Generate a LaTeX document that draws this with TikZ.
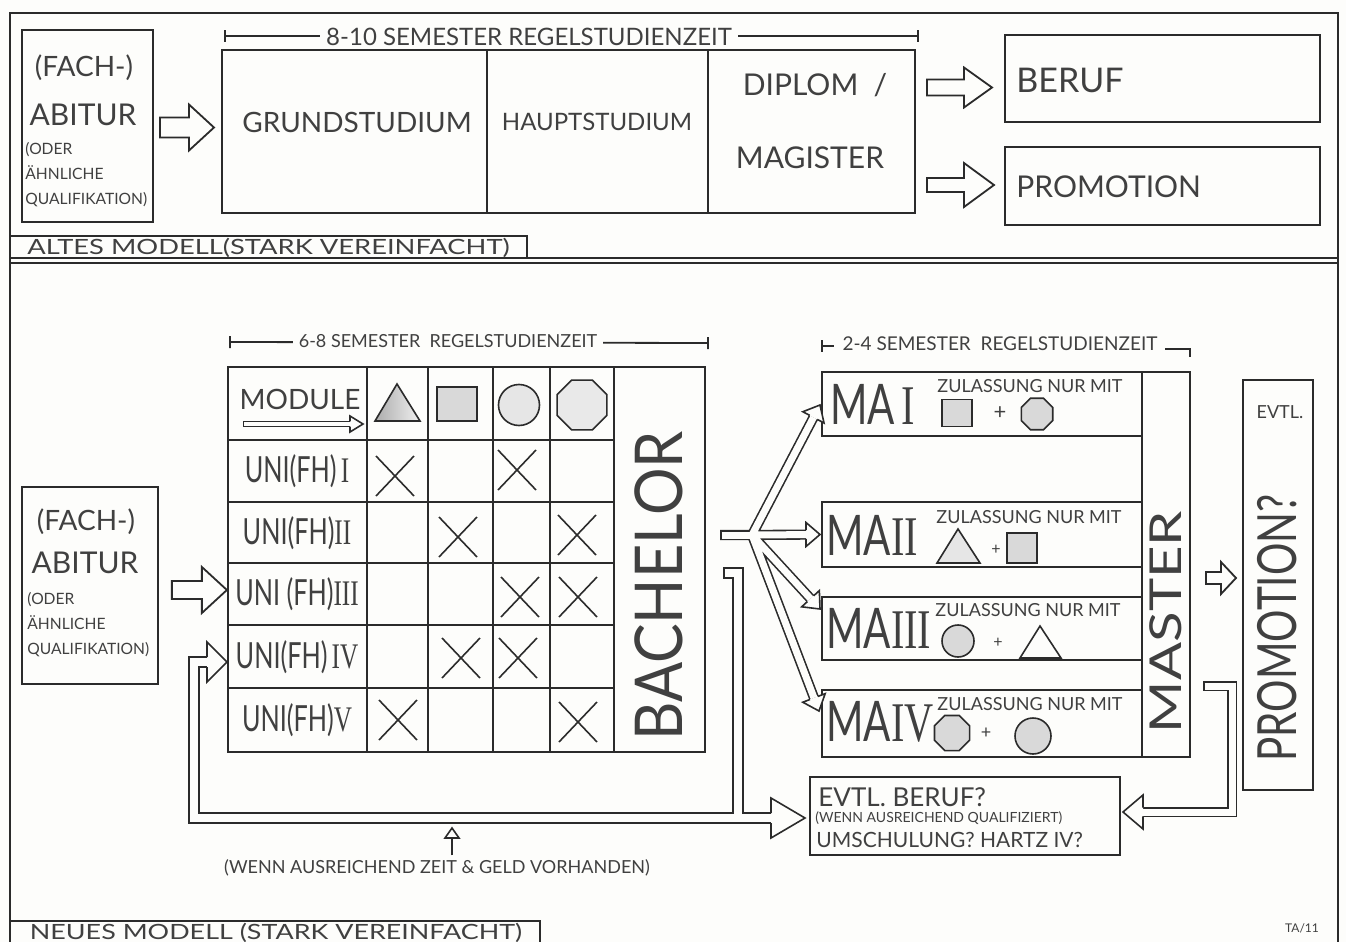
\documentclass[tikz,border=0pt]{standalone}
\usepackage{fontspec}
\setmainfont{Lato}
\newfontfamily\numfont{Liberation Serif}
\usetikzlibrary{shapes.geometric,fit,calc}
\definecolor{ink}{HTML}{2B2B2B}
\definecolor{pencil}{HTML}{404040}
\definecolor{paper}{HTML}{FDFDFB}
\definecolor{shade}{HTML}{C8C8C8}
\newcommand\fsz[1]{\fontsize{#1}{#1}\selectfont}
\newcommand\rn[1]{{\numfont #1}}
\tikzset{
  ln/.style={draw=ink, line width=0.9pt},
  fitbox/.style={draw=ink, line width=1pt, inner sep=0pt},
  txt/.style={text=pencil, inner sep=0pt},
  sO/.style={draw=ink, line width=#1+1.6pt, line join=miter, line cap=butt},
  sI/.style={draw=paper, line width=#1, line join=miter, line cap=butt},
  ahL/.store in=\ahL, ahW/.store in=\ahW, ahG/.store in=\ahG,
  ahL=7pt, ahW=6pt, ahG=2.15pt,
  hhead/.pic={\draw[draw=ink, line width=0.8pt, fill=paper, line join=miter] (-\ahL,\ahG) -- (-\ahL,\ahW) -- (0,0) -- (-\ahL,-\ahW) -- (-\ahL,-\ahG);},
  baT/.store in=\baT, baL/.store in=\baL, baS/.store in=\baS, baH/.store in=\baH,
  baT=26pt, baL=12pt, baS=5pt, baH=11pt,
  blk/.pic={\draw[draw=ink, line width=0.9pt, fill=paper, line join=miter] (-\baT,\baS) -- (-\baL,\baS) -- (-\baL,\baH) -- (0,0) -- (-\baL,-\baH) -- (-\baL,-\baS) -- (-\baT,-\baS) -- cycle;},
  shp/.style={draw=ink, line width=0.8pt, inner sep=0pt},
  oct/.style={shp, regular polygon, regular polygon sides=8},
  xm/.style={draw=ink, line width=0.8pt},
}
\begin{document}
\begin{tikzpicture}[x=0.5pt,y=-0.5pt]
\useasboundingbox (0,0) rectangle (1346,942);
\fill[paper] (0,0) rectangle (1346,942);
% outer frame
\draw[ink, line width=1.3pt] (10,960) -- (10,13) -- (1338,13) -- (1338,960);
% ================= OLD MODEL =================
\node[fitbox, fit={(22,30) (153,222)}] (abiA) {};
\node[txt, font=\fsz{14}] (abiA1) at (84,68) {(FACH-)};
\node[txt, font=\fsz{15}] (abiA2) at (83,115) {ABITUR};
\node[txt, font=\fontsize{7.8}{12.5}\selectfont, anchor=west, align=left] (abiA3) at (25,175) {(ODER\\ÄHNLICHE\\QUALIFIKATION)};

\node[fitbox, fit={(222,50) (487,213)}] (grund) {};
\node[fitbox, fit={(487,50) (708,213)}] (haupt) {};
\node[fitbox, fit={(708,50) (915,213)}] (dipl) {};
\node[txt, font=\fsz{14}] (grundT) at (357,122) {GRUNDSTUDIUM};
\node[txt, font=\fsz{12}] (hauptT) at (597,122) {HAUPTSTUDIUM};
\node[txt, font=\fsz{15}] (diplT) at (815,85) {DIPLOM\ \ /};
\node[txt, font=\fsz{15}] (magT) at (810,158) {MAGISTER};

\coordinate (dA1) at (225,36);
\coordinate (dA2) at (918,36);
\draw[ln] (dA1) -- (dA2) ($(dA1)+(0,-6)$) -- ($(dA1)+(0,6)$) ($(dA2)+(0,-6)$) -- ($(dA2)+(0,6)$);
\node[txt, fill=paper, inner xsep=3pt, font=\fsz{12}] (durA) at (529,37) {8-10 SEMESTER REGELSTUDIENZEIT};

\node[fitbox, fit={(1005,35) (1320,122)}] (beruf) {};
\node[fitbox, fit={(1005,147) (1320,225)}] (promA) {};
\node[txt, font=\fsz{17}, anchor=west] (berufT) at (1016,80) {BERUF};
\node[txt, font=\fsz{15}, anchor=west] (promAT) at (1016,187) {PROMOTION};

\pic[baT=27pt, baL=12.5pt, baS=5pt, baH=11.5pt] at ($(grund.west)+(-7,-4)$) {blk};
\pic[baT=32.5pt, baL=14pt, baS=4pt, baH=10pt] at ($(beruf.west)+(-12,9)$) {blk};
\pic[baT=33.5pt, baL=15pt, baS=3.5pt, baH=11pt] at ($(promA.west)+(-10,-1)$) {blk};

\node[fitbox, fit={(10,236) (527,258)}] (oldLab) {};
\node[txt, font=\fsz{10.5}] (oldLabT) at ($(oldLab.center)+(0,1)$) {\scalebox{1.3}[1]{ALTES MODELL(STARK VEREINFACHT)}};
\draw[ink, line width=1.3pt] (10,258) -- (1338,258);
\draw[ink, line width=1pt] (10,263) -- (1338,263);

% ================= NEW MODEL =================
\node[fitbox, fit={(22,487) (158,684)}] (abiB) {};
\node[txt, font=\fsz{14}] (abiB1) at (86,522) {(FACH-)};
\node[txt, font=\fsz{15}] (abiB2) at (85,563) {ABITUR};
\node[txt, font=\fontsize{7.8}{12.5}\selectfont, anchor=west, align=left] (abiB3) at (27,625) {(ODER\\ÄHNLICHE\\QUALIFIKATION)};

% table
\coordinate (tNW) at (228,367);
\coordinate (tSE) at (705,752);
\draw[ink, line width=1.3pt] (tNW) rectangle (tSE);
\draw[ink, line width=1.3pt] (228,440) -- (614,440);
\draw[ln] (614,367) -- (614,752);
\foreach \xx in {367,428,493,550} \draw[ln] (\xx,367) -- (\xx,752);
\foreach \yy in {502,563,625,688} \draw[ln] (228,\yy) -- (614,\yy);

\coordinate (dB1) at (230,342);
\coordinate (dB2) at (708,343);
\draw[ln] (dB1) -- (dB2) ($(dB1)+(0,-6)$) -- ($(dB1)+(0,6)$) ($(dB2)+(0,-6)$) -- ($(dB2)+(0,6)$);
\node[txt, fill=paper, inner xsep=3pt, font=\fsz{9}] (durB) at (448,341) {6-8 SEMESTER \ REGELSTUDIENZEIT};

\node[txt, font=\fsz{14}] (modT) at (300,399) {MODULE};
\draw[sO=1.8pt] (243,424) -- (350,424);
\draw[sI=1.8pt, shorten <=0.6pt] (243,424) -- (350,424);
\pic[ahL=6.5pt, ahW=4pt, ahG=1.3pt] at (363,424) {hhead};

% header shapes
\draw[ink, line width=0.8pt, left color=gray!65, right color=gray!12] (375,421) -- (397,384) -- (420,421) -- cycle;
\node[shp, fill=shade!70, minimum width=20pt, minimum height=17pt] (hSq) at (457,404) {};
\node[shp, circle, fill=shade!45, minimum size=20.5pt] (hCi) at (519,405) {};
\node[oct, fill=shade!40, minimum size=27pt] (hOc) at (582,405) {};

% row labels
\node[txt, font=\fsz{18}] (r1) at (297,471) {\scalebox{0.7}[1]{UNI(FH)\,\rn{I}}};
\node[txt, font=\fsz{18}] (r2) at (297,533) {\scalebox{0.7}[1]{UNI(FH)\rn{II}}};
\node[txt, font=\fsz{18}] (r3) at (297,594) {\scalebox{0.7}[1]{UNI (FH)\rn{III}}};
\node[txt, font=\fsz{18}] (r4) at (297,657) {\scalebox{0.7}[1]{UNI(FH)\,\rn{IV}}};
\node[txt, font=\fsz{18}] (r5) at (297,720) {\scalebox{0.7}[1]{UNI(FH)\rn{V}}};

% crosses
\foreach \cx/\cy in {395/476, 517/470, 458/537, 577/535, 520/597, 578/597, 461/658, 518/658, 398/720, 578/722}
  \draw[xm] (\cx-19,\cy-20) -- (\cx+19,\cy+20) (\cx-19,\cy+20) -- (\cx+19,\cy-20);

\node[txt, rotate=90, font=\fsz{33}] (bach) at (659,586) {\scalebox{0.9}[1]{BACHELOR}};

\pic[baT=27.5pt, baL=12.5pt, baS=4.5pt, baH=11.5pt] at ($(r3.west)+(-8,-4)$) {blk};

% master block
\node[fitbox, fit={(822,372) (1142,436)}] (ma1) {};
\node[fitbox, fit={(822,502) (1142,567)}] (ma2) {};
\node[fitbox, fit={(822,597) (1142,660)}] (ma3) {};
\node[fitbox, fit={(822,690) (1142,757)}] (ma4) {};
\node[fitbox, fit={(1142,372) (1190,757)}] (mast) {};
\node[txt, rotate=90, font=\fsz{22}] (mastT) at (1166,622) {\scalebox{1.28}[1]{MASTER}};

\coordinate (dC1) at (822,346);
\coordinate (dC2) at (1190,349);
\draw[ln] (dC1) -- ++(12,0) ($(dC1)+(0,-6)$) -- ($(dC1)+(0,6)$);
\draw[ln] ($(dC2)+(-25,0)$) -- (dC2) -- ++(0,8);
\node[txt, font=\fsz{9.5}] (durC) at (1000,344) {2-4 SEMESTER \ REGELSTUDIENZEIT};

\node[txt, font=\fsz{28}, anchor=west] (ma1T) at (830,404) {\scalebox{0.72}[1]{MA\,\rn{I}}};
\node[txt, font=\fsz{28}, anchor=west] (ma2T) at (826,535) {\scalebox{0.72}[1]{MA\rn{II}}};
\node[txt, font=\fsz{28}, anchor=west] (ma3T) at (826,628) {\scalebox{0.72}[1]{MA\rn{III}}};
\node[txt, font=\fsz{28}, anchor=west] (ma4T) at (826,722) {\scalebox{0.72}[1]{MA\rn{IV}}};
\node[txt, font=\fsz{9}] (z1) at (1030,386) {ZULASSUNG NUR MIT};
\node[txt, font=\fsz{9}] (z2) at (1029,517) {ZULASSUNG NUR MIT};
\node[txt, font=\fsz{9}] (z3) at (1028,610) {ZULASSUNG NUR MIT};
\node[txt, font=\fsz{9}] (z4) at (1030,704) {ZULASSUNG NUR MIT};

% MA I: square + octagon
\node[shp, fill=shade!70, minimum width=15pt, minimum height=13.5pt] (s1a) at (957,413) {};
\node[txt, font=\fsz{11}] (p1) at (1000,413) {+};
\node[oct, fill=shade!70, minimum size=17pt] (s1b) at (1037,414) {};
% MA II: triangle + square
\draw[ink, line width=0.8pt, fill=shade!45] (937,563) -- (958,529) -- (980,563) -- cycle;
\node[txt, font=\fsz{8}] (p2) at (996,550) {+};
\node[shp, fill=shade!70, minimum width=15pt, minimum height=15pt] (s2b) at (1022,548) {};
% MA III: circle + triangle
\node[shp, circle, fill=shade!70, minimum size=16pt] (s3a) at (958,641) {};
\node[txt, font=\fsz{8}] (p3) at (998,643) {+};
\draw[ink, line width=0.8pt] (1020,658) -- (1040,626) -- (1061,658) -- cycle;
% MA IV: octagon + circle
\node[oct, fill=shade!70, minimum size=19pt] (s4a) at (952,733) {};
\node[txt, font=\fsz{9}] (p4) at (986,733) {+};
\node[shp, circle, fill=shade!70, minimum size=18pt] (s4b) at (1033,736) {};

% promotion and evtl boxes
\node[fitbox, fit={(1243,380) (1313,790)}] (promB) {};
\node[txt, font=\fsz{9}] (evtlP) at (1280,412) {EVTL.};
\node[txt, rotate=90, font=\fsz{27}] (promBT) at (1277,628) {\scalebox{0.75}[1]{PROMOTION?}};

\node[fitbox, fit={(810,777) (1120,855)}] (evtl) {};
\node[txt, font=\fsz{13}, anchor=west] (ev1) at (818,797) {EVTL. BERUF?};
\node[txt, font=\fsz{7}, anchor=west] (ev2) at (815,818) {(WENN AUSREICHEND QUALIFIZIERT)};
\node[txt, font=\fsz{10.5}, anchor=west] (ev3) at (816,840) {UMSCHULUNG? HARTZ IV?};

% master -> promotion
\pic[baT=15pt, baL=7.5pt, baS=3pt, baH=8pt] at ($(promB.west)+(-6,-7)$) {blk};

% ---------- hollow connectors ----------
\coordinate (bs) at (720,535);
\coordinate (bj) at (752,535);
\coordinate (bjx) at (755,535);
\coordinate (t1) at ($(ma1.west)+(-1,1)$);
\coordinate (t2) at ($(ma2.west)+(-1,0)$);
\coordinate (t3) at ($(ma3.north west)+(-1,13)$);
\coordinate (t4) at ($(ma4.north west)+(-2,22)$);

\coordinate (fbS) at (723,573);
\coordinate (fbC) at (738,818);
\coordinate (uIV) at (227,662);
\coordinate (evL) at ($(evtl.west)+(-4,2)$);

\coordinate (pfS) at (1203,686);
\coordinate (evR) at ($(evtl.east)+(2,-4)$);

% outer pass
\draw[sO=3.5pt] (bs) -- (bjx)
  (bj) -- ($(t1)!7pt!(bj)$) (bj) -- ($(t2)!7pt!(bj)$)
  (bj) -- ($(t3)!7pt!(bj)$) (bj) -- ($(t4)!7pt!(bj)$);
\draw[sO=4.2pt] (fbS) -| (fbC) -- ($(evL)+(-34,0)$);
\draw[sO=4.2pt] (fbC) -| ($(uIV)+(-33,0)$) -- ($(uIV)+(-20,0)$);
\draw[sO=3.5pt] (pfS) -| ($(evR)+(109,0)$) -- ($(evR)+(20,0)$);
% inner pass
\draw[sI=3.5pt, shorten <=0.8pt] (bs) -- (bjx);
\draw[sI=3.5pt] (bj) -- ($(t1)!7pt!(bj)$) (bj) -- ($(t2)!7pt!(bj)$)
  (bj) -- ($(t3)!7pt!(bj)$) (bj) -- ($(t4)!7pt!(bj)$);
\draw[sI=4.2pt, shorten <=0.8pt] (fbS) -| (fbC);
\draw[sI=4.2pt] (fbC) -- ($(evL)+(-34,0)$);
\draw[sI=4.2pt] (fbC) -| ($(uIV)+(-33,0)$) -- ($(uIV)+(-20,0)$);
\draw[sI=3.5pt, shorten <=0.8pt] (pfS) -| ($(evR)+(109,0)$) -- ($(evR)+(20,0)$);
% heads
\pic[rotate=62.0, ahL=7pt, ahW=6pt, ahG=2.15pt] at (t1) {hhead};
\pic[rotate=0, ahL=7pt, ahW=6pt, ahG=2.15pt] at (t2) {hhead};
\pic[rotate=-47.4, ahL=7pt, ahW=6pt, ahG=2.15pt] at (t3) {hhead};
\pic[rotate=-69.0, ahL=7pt, ahW=6pt, ahG=2.15pt] at (t4) {hhead};
\pic[rotate=0, ahL=17pt, ahW=10pt, ahG=2.5pt] at (evL) {hhead};
\pic[rotate=0, ahL=10pt, ahW=10pt, ahG=2.5pt] at (uIV) {hhead};
\pic[rotate=180, ahL=10pt, ahW=8.5pt, ahG=2.15pt] at (evR) {hhead};

% note below loop
\node[txt, font=\fsz{9}] (wenn) at (437,868) {(WENN AUSREICHEND ZEIT \& GELD VORHANDEN)};
\coordinate (upTip) at (452,828);
\draw[ln, line width=0.7pt] ($(wenn.north)+(15,-4)$) -- ($(upTip)+(0,10)$);
\pic[rotate=90, ahL=5pt, ahW=3.5pt, ahG=0pt] at (upTip) {hhead};

\node[fitbox, fit={(10,921) (540,950)}] (newLab) {};
\node[txt, font=\fsz{10.5}] (newLabT) at (276,933) {\scalebox{1.28}[1]{NEUES MODELL (STARK VEREINFACHT)}};
\node[txt, font=\fsz{6}] (sig) at (1302,928) {TA/11};
\end{tikzpicture}
\end{document}
